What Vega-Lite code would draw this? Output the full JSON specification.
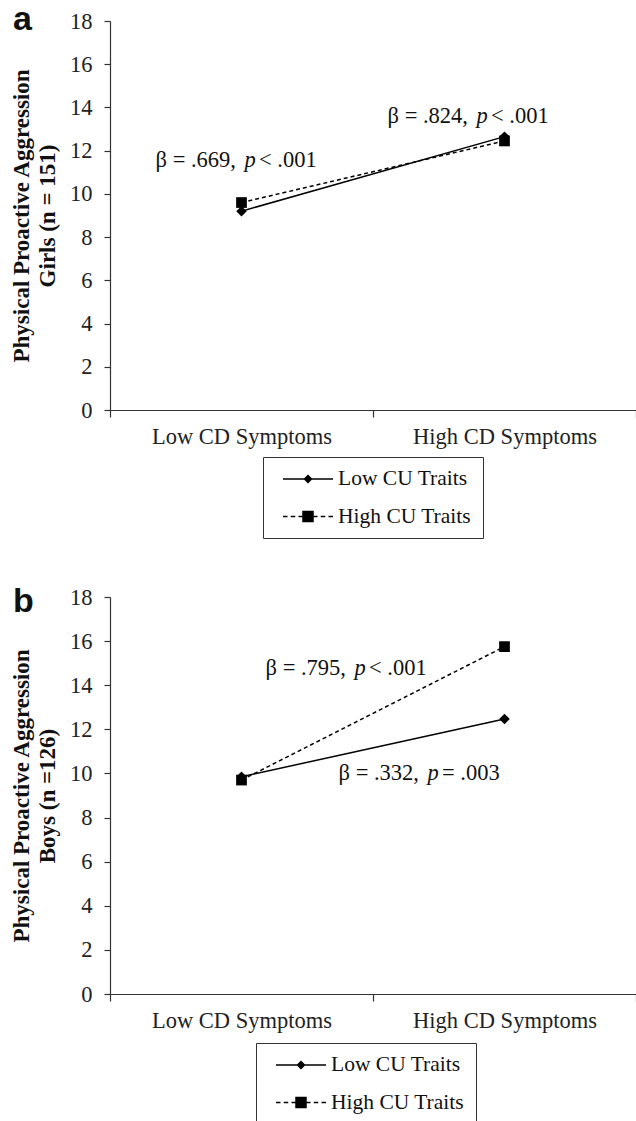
{
  "$schema": "https://vega.github.io/schema/vega-lite/v6.json",
  "background": "white",
  "padding": {"left": 10, "top": 3, "right": 0, "bottom": 0},
  "resolve": {"scale": {"shape": "independent"}, "legend": {"shape": "independent"}},
  "config": {
    "view": {"stroke": null},
    "font": "Liberation Serif",
    "axis": {
      "domainColor": "#333", "tickColor": "#333", "labelColor": "#222",
      "labelFont": "Liberation Serif", "labelFontSize": 22.5, "labelLimit": 400, "grid": false,
      "titleFont": "Liberation Serif", "titleFontWeight": "bold", "titleFontSize": 23,
      "titleColor": "#111", "domainWidth": 1.2, "tickWidth": 1.2
    },
    "concat": {"spacing": 46},
    "title": {"font": "Liberation Sans", "fontSize": 34, "fontWeight": "bold", "color": "#111", "anchor": "start", "frame": "group"},
    "text": {"font": "Liberation Serif", "fontSize": 22.5, "color": "#111", "baseline": "alphabetic"},
    "legend": {
      "strokeColor": "#333", "padding": 11, "labelFont": "Liberation Serif", "labelFontSize": 21.5,
      "labelColor": "#111", "labelLimit": 400, "rowPadding": 15.5, "symbolSize": 400, "symbolOffset": 23, "labelOffset": 19,
      "labelExpr": "datum.label + '\u00a0\u00a0\u00a0'"
    }
  },
  "datasets": {
    "girls": [
      {"cd": "Low CD Symptoms", "cu": "Low CU Traits", "value": 9.2},
      {"cd": "High CD Symptoms", "cu": "Low CU Traits", "value": 12.65},
      {"cd": "Low CD Symptoms", "cu": "High CU Traits", "value": 9.6},
      {"cd": "High CD Symptoms", "cu": "High CU Traits", "value": 12.45}
    ],
    "boys": [
      {"cd": "Low CD Symptoms", "cu": "Low CU Traits", "value": 9.85},
      {"cd": "High CD Symptoms", "cu": "Low CU Traits", "value": 12.47},
      {"cd": "Low CD Symptoms", "cu": "High CU Traits", "value": 9.7},
      {"cd": "High CD Symptoms", "cu": "High CU Traits", "value": 15.75}
    ],
    "girlsNotes": [
      {"note": "a1", "cd": "Low CD Symptoms", "value": 11.25, "pre": "β = .669,", "p": "p", "post": "< .001"},
      {"note": "a2", "cd": "High CD Symptoms", "value": 13.29, "pre": "β = .824,", "p": "p", "post": "< .001"}
    ],
    "boysNotes": [
      {"note": "b1", "cd": "Low CD Symptoms", "value": 14.47, "pre": "β = .795,", "p": "p", "post": "< .001"},
      {"note": "b2", "cd": "High CD Symptoms", "value": 9.7, "pre": "β = .332,", "p": "p", "post": "= .003"}
    ]
  },
  "vconcat": [
    {
      "width": 526, "height": 389,
      "title": {"text": "a", "dx": -97, "offset": -27},
      "encoding": {
        "x": {"field": "cd", "type": "nominal", "sort": ["Low CD Symptoms", "High CD Symptoms"],
              "scale": {"type": "band", "paddingInner": 0, "paddingOuter": 0},
              "axis": {"title": null, "labelAngle": 0, "tickBand": "extent", "tickSize": 7, "labelPadding": 8}},
        "y": {"field": "value", "type": "quantitative", "scale": {"domain": [0, 18], "nice": false},
              "axis": {"title": ["Physical Proactive Aggression", "Girls (n = 151)"], "values": [0,2,4,6,8,10,12,14,16,18],
                       "tickSize": 6, "labelPadding": 12, "titlePadding": 10, "titleLineHeight": 26}}
      },
      "layer": [
        {"data": {"name": "girls"}, "transform": [{"filter": "datum.cu === 'Low CU Traits'"}], "mark": {"type": "line", "color": "black", "strokeWidth": 1.5}, "encoding": {}},
        {"data": {"name": "girls"}, "transform": [{"filter": "datum.cu === 'High CU Traits'"}], "mark": {"type": "line", "color": "black", "strokeWidth": 1.5, "strokeDash": [4, 3]}, "encoding": {}},
        {"data": {"name": "girls"}, "transform": [{"filter": "datum.cu === 'High CU Traits'"}], "mark": {"type": "point", "shape": "square", "filled": true, "color": "black", "opacity": 1, "size": 115}},
        {"data": {"name": "girls"}, "transform": [{"filter": "datum.cu === 'Low CU Traits'"}], "mark": {"type": "point", "shape": "diamond", "filled": true, "color": "black", "opacity": 1, "size": 110}},
        {"data": {"name": "girls"}, "transform": [{"filter": "false"}],
         "mark": {"type": "point", "filled": true, "fill": "black", "stroke": "black", "strokeWidth": 1.3, "opacity": 1},
         "encoding": {
           "shape": {"field": "cu", "type": "nominal",
             "scale": {"domain": ["Low CU Traits", "High CU Traits"],
                       "range": ["M-2.5,0H2.5M-0.35,0L0,-0.35L0.35,0L0,0.35Z", "M-2.5,0H-2.05M-1.725,0H-1.275M-0.95,0H-0.5M0.5,0H0.95M1.275,0H1.725M2.05,0H2.5M-0.5,-0.5H0.5V0.5H-0.5Z"]},
             "legend": {"title": null, "orient": "none", "legendX": 153, "legendY": 436}}}},
        {"data": {"name": "girlsNotes"}, "transform": [{"filter": "datum.note === 'a1'"}], "mark": {"type": "text", "align": "right", "dx": -5.5}, "encoding": {"text": {"field": "pre"}}},
        {"data": {"name": "girlsNotes"}, "transform": [{"filter": "datum.note === 'a1'"}], "mark": {"type": "text", "align": "center", "dx": 8.5, "fontStyle": "italic"}, "encoding": {"text": {"field": "p"}}},
        {"data": {"name": "girlsNotes"}, "transform": [{"filter": "datum.note === 'a1'"}], "mark": {"type": "text", "align": "left", "dx": 17.5}, "encoding": {"text": {"field": "post"}}},
        {"data": {"name": "girlsNotes"}, "transform": [{"filter": "datum.note === 'a2'"}], "mark": {"type": "text", "align": "right", "dx": -36.5}, "encoding": {"text": {"field": "pre"}}},
        {"data": {"name": "girlsNotes"}, "transform": [{"filter": "datum.note === 'a2'"}], "mark": {"type": "text", "align": "center", "dx": -22.5, "fontStyle": "italic"}, "encoding": {"text": {"field": "p"}}},
        {"data": {"name": "girlsNotes"}, "transform": [{"filter": "datum.note === 'a2'"}], "mark": {"type": "text", "align": "left", "dx": -13.5}, "encoding": {"text": {"field": "post"}}}
      ]
    },
    {
      "width": 526, "height": 397,
      "title": {"text": "b", "dx": -97, "offset": -33},
      "encoding": {
        "x": {"field": "cd", "type": "nominal", "sort": ["Low CD Symptoms", "High CD Symptoms"],
              "scale": {"type": "band", "paddingInner": 0, "paddingOuter": 0},
              "axis": {"title": null, "labelAngle": 0, "tickBand": "extent", "tickSize": 7, "labelPadding": 8}},
        "y": {"field": "value", "type": "quantitative", "scale": {"domain": [0, 18], "nice": false},
              "axis": {"title": ["Physical Proactive Aggression", "Boys  (n =126)"], "values": [0,2,4,6,8,10,12,14,16,18],
                       "tickSize": 6, "labelPadding": 12, "titlePadding": 10, "titleLineHeight": 26}}
      },
      "layer": [
        {"data": {"name": "boys"}, "transform": [{"filter": "datum.cu === 'Low CU Traits'"}], "mark": {"type": "line", "color": "black", "strokeWidth": 1.5}, "encoding": {}},
        {"data": {"name": "boys"}, "transform": [{"filter": "datum.cu === 'High CU Traits'"}], "mark": {"type": "line", "color": "black", "strokeWidth": 1.5, "strokeDash": [4, 3]}, "encoding": {}},
        {"data": {"name": "boys"}, "transform": [{"filter": "datum.cu === 'High CU Traits'"}], "mark": {"type": "point", "shape": "square", "filled": true, "color": "black", "opacity": 1, "size": 115}},
        {"data": {"name": "boys"}, "transform": [{"filter": "datum.cu === 'Low CU Traits'"}], "mark": {"type": "point", "shape": "diamond", "filled": true, "color": "black", "opacity": 1, "size": 110}},
        {"data": {"name": "boys"}, "transform": [{"filter": "false"}],
         "mark": {"type": "point", "filled": true, "fill": "black", "stroke": "black", "strokeWidth": 1.3, "opacity": 1},
         "encoding": {
           "shape": {"field": "cu", "type": "nominal",
             "scale": {"domain": ["Low CU Traits", "High CU Traits"],
                       "range": ["M-2.5,0H2.5M-0.35,0L0,-0.35L0.35,0L0,0.35Z", "M-2.5,0H-2.05M-1.725,0H-1.275M-0.95,0H-0.5M0.5,0H0.95M1.275,0H1.725M2.05,0H2.5M-0.5,-0.5H0.5V0.5H-0.5Z"]},
             "legend": {"title": null, "orient": "none", "legendX": 146, "legendY": 446}}}},
        {"data": {"name": "boysNotes"}, "transform": [{"filter": "datum.note === 'b1'"}], "mark": {"type": "text", "align": "right", "dx": 104.5}, "encoding": {"text": {"field": "pre"}}},
        {"data": {"name": "boysNotes"}, "transform": [{"filter": "datum.note === 'b1'"}], "mark": {"type": "text", "align": "center", "dx": 118.5, "fontStyle": "italic"}, "encoding": {"text": {"field": "p"}}},
        {"data": {"name": "boysNotes"}, "transform": [{"filter": "datum.note === 'b1'"}], "mark": {"type": "text", "align": "left", "dx": 127.5}, "encoding": {"text": {"field": "post"}}},
        {"data": {"name": "boysNotes"}, "transform": [{"filter": "datum.note === 'b2'"}], "mark": {"type": "text", "align": "right", "dx": -85.5}, "encoding": {"text": {"field": "pre"}}},
        {"data": {"name": "boysNotes"}, "transform": [{"filter": "datum.note === 'b2'"}], "mark": {"type": "text", "align": "center", "dx": -71.5, "fontStyle": "italic"}, "encoding": {"text": {"field": "p"}}},
        {"data": {"name": "boysNotes"}, "transform": [{"filter": "datum.note === 'b2'"}], "mark": {"type": "text", "align": "left", "dx": -62.5}, "encoding": {"text": {"field": "post"}}}
      ]
    }
  ]
}
